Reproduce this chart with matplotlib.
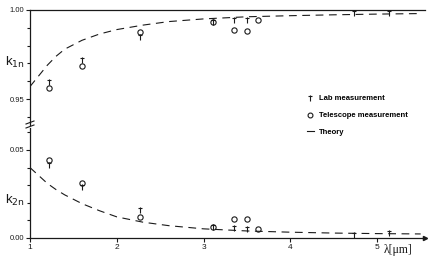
import numpy as np
import matplotlib
matplotlib.use('Agg')
import matplotlib.pyplot as plt
from matplotlib.path import Path
from matplotlib.lines import Line2D

plt.rcParams['font.family'] = ['Liberation Sans', 'DejaVu Sans']

# ── Data ────────────────────────────────────────────────────────────────────
lab_x = [1.22, 1.60, 2.27, 3.11, 3.35, 3.50, 4.73, 5.13]
lab_k1 = [0.9596, 0.9719, 0.9850, 0.9933, 0.9944, 0.9944, 0.9983, 0.9983]
lab_k2 = [0.0415, 0.0290, 0.0160, 0.0060, 0.0057, 0.0051, 0.0017, 0.0028]

tel_x = [1.22, 1.60, 2.27, 3.11, 3.35, 3.50, 3.63]
tel_k1 = [0.9562, 0.9685, 0.9876, 0.9933, 0.9888, 0.9882, 0.9944]
tel_k2 = [0.0443, 0.0310, 0.0120, 0.0062, 0.0108, 0.0108, 0.0051]

theory_x = [1.0, 1.1, 1.2, 1.3, 1.4, 1.6, 1.8, 2.0, 2.3, 2.6, 3.0, 3.5, 4.0, 4.5, 5.0, 5.5]
theory_k1 = [0.957, 0.963, 0.969, 0.974, 0.978, 0.983, 0.9865, 0.989, 0.9915, 0.9935,
             0.995, 0.9962, 0.9968, 0.9973, 0.9977, 0.998]
theory_k2 = [0.040, 0.0355, 0.031, 0.0275, 0.0245, 0.0195, 0.0155, 0.0120, 0.0090, 0.0070,
             0.0052, 0.0040, 0.0033, 0.0028, 0.0025, 0.0023]

# ── Figure ──────────────────────────────────────────────────────────────────
fig = plt.figure(figsize=(4.36, 2.59), dpi=100)
W, H = 436, 259
left, right = 30 / W, 425 / W
ax1 = fig.add_axes([left, 1 - 125 / H, right - left, (125 - 10) / H])
ax2 = fig.add_axes([left, 1 - 238 / H, right - left, (238 - 128) / H])

# lab marker: vertical bar with a small crossbar near the top
lab_marker = Path([(0, -1), (0, 1), (-0.45, 0.45), (0.45, 0.45)],
                  [Path.MOVETO, Path.LINETO, Path.MOVETO, Path.LINETO])

ink = '#1a1a1a'
dash = (0, (7, 5))
for ax, lab_y, tel_y, th_y in [(ax1, lab_k1, tel_k1, theory_k1),
                               (ax2, lab_k2, tel_k2, theory_k2)]:
    ax.plot(theory_x, th_y, color=ink, lw=0.8, linestyle=dash)
    ax.plot(lab_x, lab_y, linestyle='none', marker=lab_marker, ms=5,
            mec=ink, mew=0.8)
    ax.plot(tel_x, tel_y, linestyle='none', marker='o', ms=3.8,
            mfc='none', mec=ink, mew=0.8)
    ax.set_xlim(1, 5.55)
    ax.spines['right'].set_visible(False)
    for s in ax.spines.values():
        s.set_linewidth(0.9)
        s.set_color(ink)
    ax.tick_params(axis='both', which='both', direction='out', labelsize=5.5,
                   colors=ink, width=0.8, pad=1)
    ax.tick_params(which='major', length=3)
    ax.tick_params(which='minor', length=2)
    ax.patch.set_alpha(0)

ax1.set_ylim(0.9354, 1.0)
ax1.set_yticks([0.95, 1.00])
ax1.set_yticklabels(['0.95', '1.00'])
ax1.set_yticks([0.94, 0.96, 0.97, 0.98, 0.99], minor=True)
ax1.spines['bottom'].set_visible(False)
ax1.set_xticks([])

ax2.set_ylim(0, 0.0625)
ax2.set_yticks([0.0, 0.05])
ax2.set_yticklabels(['0.00', '0.05'])
ax2.set_yticks([0.01, 0.02, 0.03, 0.04, 0.06], minor=True)
ax2.spines['top'].set_visible(False)
ax2.set_xticks([1, 2, 3, 4, 5])
ax2.set_xticklabels(['1', '2', '3', '4', '5'], fontsize=6)
ax2.plot(1, 0, '>', color=ink, ms=3, transform=ax2.get_yaxis_transform(),
         clip_on=False)

# axis break marks on the left spine
for yb in (122.5, 126.5):
    fig.add_artist(Line2D([(30 - 4) / W, (30 + 4) / W],
                          [1 - (yb + 1.5) / H, 1 - (yb - 1.5) / H],
                          color=ink, lw=0.8))

# axis labels
fig.text(5 / W, 1 - 62 / H, r'k$_{\rm 1n}$', fontsize=9.5, color=ink,
         va='center', ha='left')
fig.text(5 / W, 1 - 200 / H, r'k$_{\rm 2n}$', fontsize=9.5, color=ink,
         va='center', ha='left')
fig.text(384 / W, 1 - 250 / H, 'λ[μm]', fontsize=8.5, color=ink,
         family=['Liberation Serif', 'DejaVu Serif'], va='center', ha='left')

# legend
handles = [
    Line2D([], [], linestyle='none', marker=lab_marker, ms=5, mec=ink, mew=0.8),
    Line2D([], [], linestyle='none', marker='o', ms=3.5, mfc='none', mec=ink, mew=0.8),
    Line2D([], [], color=ink, lw=0.8),
]
fig.legend(handles, ['Lab measurement', 'Telescope measurement', 'Theory'],
           loc='upper left', bbox_to_anchor=(307 / W, 1 - 95 / H),
           frameon=False, prop={'size': 5.5, 'weight': 'bold'},
           handlelength=0.9, handletextpad=0.7, labelspacing=1.25,
           borderaxespad=0, borderpad=0)

plt.savefig('out.png', dpi=100)
